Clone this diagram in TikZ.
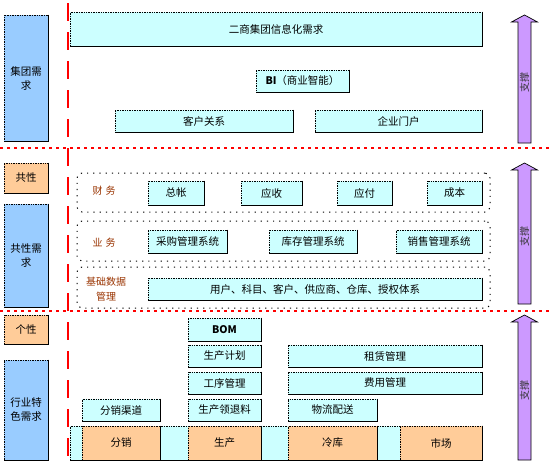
\documentclass[tikz,border=0pt]{standalone}
\usepackage{fontspec}
\setmainfont{Noto Sans CJK SC}
\usetikzlibrary{positioning}

\definecolor{cian}{HTML}{CCFFFF}
\definecolor{azul}{HTML}{99CCFF}
\definecolor{naranja}{HTML}{FFCC99}
\definecolor{morado}{HTML}{CC99FF}
\definecolor{marron}{HTML}{993300}

\begin{document}
\begin{tikzpicture}[
    x=1pt, y=-1pt,
    every node/.style={inner sep=0pt, font=\fontsize{10.5}{14}\selectfont},
    caja/.style={draw=black, densely dotted, line width=0.7pt, fill=cian,
        minimum height=22pt},
    lado/.style={caja, fill=azul, minimum width=44pt, align=center},
    tono/.style={caja, fill=naranja},
    grupo/.style={draw=black, line width=1pt, dash pattern=on 1.2pt off 5pt,
        rounded corners=5pt, minimum width=413pt},
    etiq/.style={text=marron, font=\fontsize{10}{15}\selectfont, align=center},
    flecha/.style={fill=morado, draw=black, line width=0.7pt}
]
\useasboundingbox (0,0) rectangle (553,475);

% Columna izquierda
\node[lado, minimum height=126pt] (grupoNec) at (26,78) {集团需\\求};
\node[tono, minimum width=44pt, minimum height=30pt] (comun) at (26,178) {共性};
\node[lado, minimum height=103pt] (comunNec) at (26,255.5) {共性需\\求};
\node[tono, minimum width=44pt, minimum height=29pt] (propio) at (26,329.5) {个性};
\node[lado, minimum height=100pt] (sectorNec) at (26,410) {行业特\\色需求};

% Separadores
\draw[red, line width=2pt, dash pattern=on 18pt off 11pt] (68,3) -- (68,466);
\draw[red, line width=1.8pt, dash pattern=on 3pt off 4pt] (0,148) -- (553,148);
\draw[red, line width=1.8pt, dash pattern=on 3pt off 4pt] (0,311) -- (553,311);

% Primer bloque
\node[caja, minimum width=412pt, minimum height=34pt] (info) at (276,29) {二商集团信息化需求};
\node[caja, minimum width=93pt] (bi) at (302.5,81) {\textbf{BI}（商业智能）};
\node[caja, minimum width=178pt] (crm) at (204,121) {客户关系};
\node[caja, minimum width=167pt] (portal) at (398.5,121) {企业门户};

% Segundo bloque
\node[grupo, minimum height=39pt] (gFin) at (283.5,192.5) {};
\node[grupo, minimum height=40pt] (gNeg) at (283.5,241) {};
\node[grupo, minimum height=41pt] (gBase) at (283.5,287.5) {};
\node[etiq] (lFin) at (104,191) {财\hspace{3pt}务};
\node[etiq] (lNeg) at (104,243) {业\hspace{3pt}务};
\node[etiq] (lBase) at (106,289.5) {基础数据\\管理};

\node[caja, minimum width=56pt, minimum height=24pt] (mayor) at (176,193) {总帐};
\node[caja, minimum width=61pt, minimum height=24pt] (cobro) at (271.5,193) {应收};
\node[caja, minimum width=55pt, minimum height=24pt] (pago) at (364.5,193) {应付};
\node[caja, minimum width=55pt, minimum height=24pt] (coste) at (454.5,193) {成本};

\node[caja, minimum width=79pt, minimum height=23pt] (compra) at (187.5,241.5) {采购管理系统};
\node[caja, minimum width=88pt, minimum height=23pt] (stock) at (313,241.5) {库存管理系统};
\node[caja, minimum width=86pt, minimum height=23pt] (venta) at (439,241.5) {销售管理系统};

\node[caja, minimum width=334pt] (datos) at (315,289) {用户、科目、客户、供应商、仓库、授权体系};

% Tercer bloque
\node[caja, minimum width=73pt, minimum height=23pt] (bom) at (224.5,329.5) {\textbf{BOM}};
\node[caja, minimum width=73pt] (plan) at (224.5,356) {生产计划};
\node[caja, minimum width=73pt] (proceso) at (224.5,383) {工序管理};
\node[caja, minimum width=73pt] (material) at (224.5,410) {生产领退料};
\node[caja, minimum width=78pt] (canal) at (121,410) {分销渠道};
\node[caja, minimum width=194pt] (alquiler) at (385,356) {租赁管理};
\node[caja, minimum width=194pt] (gasto) at (385,383) {费用管理};
\node[caja, minimum width=89pt] (logist) at (332.5,410) {物流配送};

\node[caja, minimum width=412pt, minimum height=34pt] (franja) at (276,443) {};
\node[tono, minimum width=78pt, minimum height=34pt] (distrib) at (121,443) {分销};
\node[tono, minimum width=73pt, minimum height=34pt] (prod) at (224.5,443) {生产};
\node[tono, minimum width=89pt, minimum height=34pt] (frio) at (332.5,443) {冷库};
\node[tono, minimum width=82pt, minimum height=34pt] (mercado) at (441,443) {市场};

% Bordes continuos (derecha e inferior)
\foreach \n in {grupoNec, comun, comunNec, propio, sectorNec, info, bi, crm, portal,
    mayor, cobro, pago, coste, compra, stock, venta, datos, bom, plan, proceso,
    material, canal, alquiler, gasto, logist, franja, distrib, prod, frio, mercado}
    \draw[line width=0.8pt] (\n.north east) -- (\n.south east) -- (\n.south west);

% Flechas de soporte
\foreach \sup/\inf/\k in {15/143/1, 163/304/2, 315/460/3} {
    \draw[flecha] (518,\inf) -- (518,\sup+7) -- (511.5,\sup+7) -- (524.5,\sup)
        -- (537.5,\sup+7) -- (531,\sup+7) -- (531,\inf) -- cycle;
    \node[rotate=90, font=\fontsize{10}{12}\selectfont, text=black!80] (soporte\k)
        at (524.5,{(\sup+\inf)/2 + 3}) {支撑};
}

\end{tikzpicture}
\end{document}
